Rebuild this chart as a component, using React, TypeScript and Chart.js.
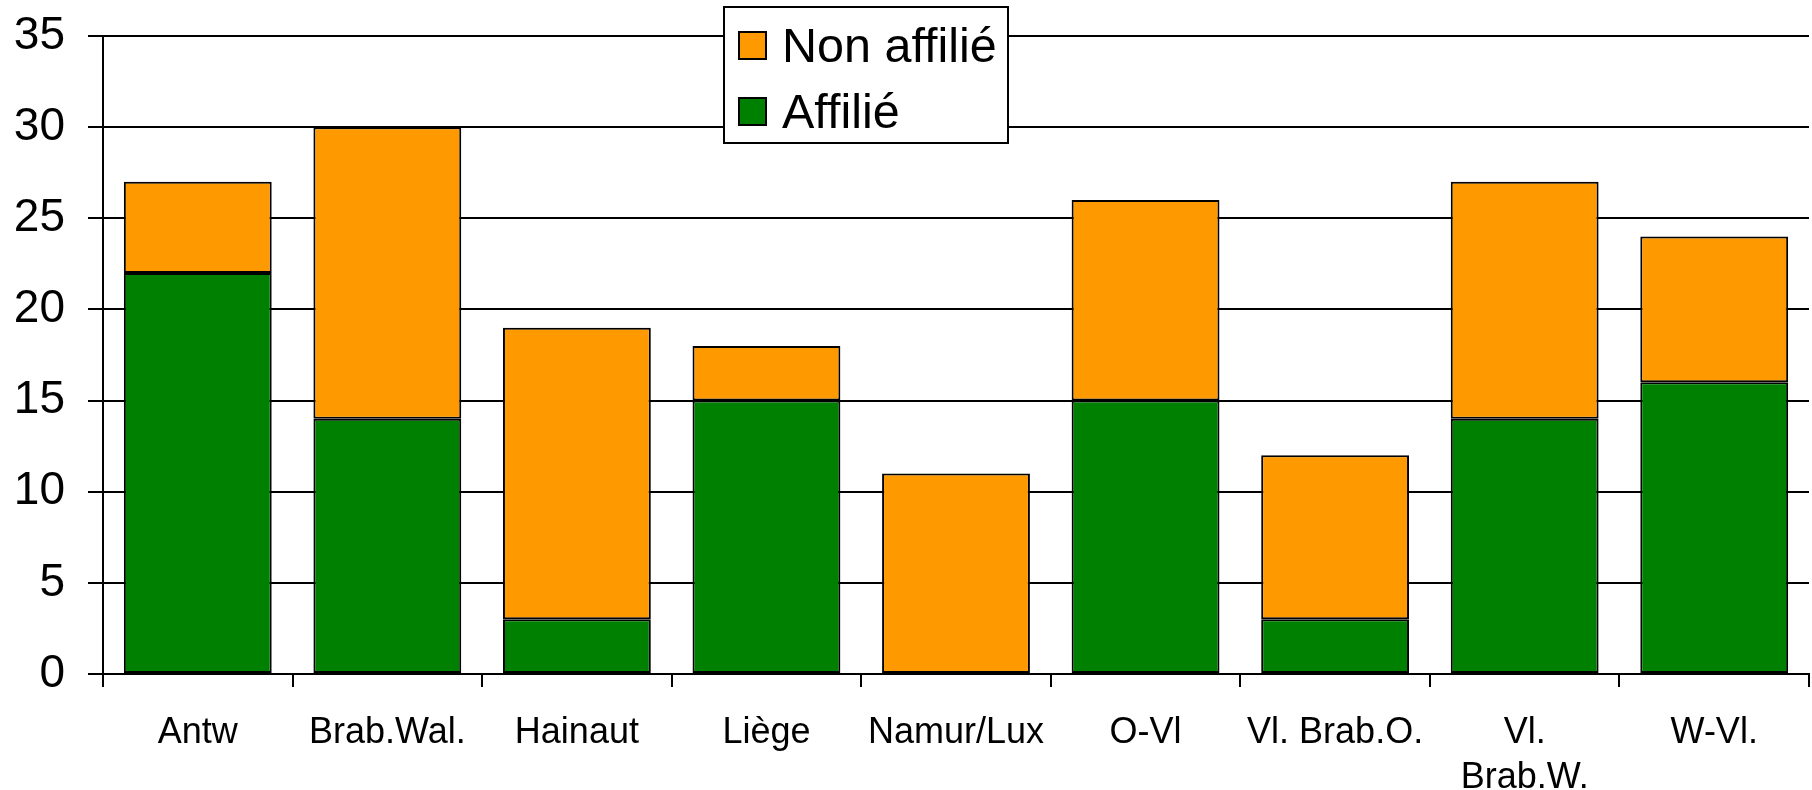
import React, { useEffect, useRef } from "react";
import { Chart, registerables } from "chart.js";

Chart.register(...registerables);

const categories: (string | string[])[] = [
  "Antw",
  "Brab.Wal.",
  "Hainaut",
  "Liège",
  "Namur/Lux",
  "O-Vl",
  "Vl. Brab.O.",
  ["Vl.", "Brab.W."],
  "W-Vl.",
];
const affilie = [22, 14, 3, 15, 0, 15, 3, 14, 16];
const nonAffilie = [5, 16, 16, 3, 11, 11, 9, 13, 8];
const seriesNames = ["Affilié", "Non affilié"];
const seriesColors = ["#008000", "#FF9900"];

const FONT = "'Liberation Sans', Arial, sans-serif";

const legendPlugin = {
  id: "boxLegend",
  afterDatasetsDraw(chart: any) {
    const { ctx, chartArea } = chart;
    const x = chartArea.left + 621;
    const y = chartArea.top - 29;
    const w = 284;
    const h = 136;
    ctx.save();
    ctx.fillStyle = "#fff";
    ctx.fillRect(x, y, w, h);
    ctx.strokeStyle = "#000";
    ctx.lineWidth = 2;
    ctx.strokeRect(x, y, w, h);
    const items = [
      { label: seriesNames[1], color: seriesColors[1] },
      { label: seriesNames[0], color: seriesColors[0] },
    ];
    ctx.font = `48.5px ${FONT}`;
    ctx.textBaseline = "alphabetic";
    items.forEach((it, i) => {
      const by = y + 25 + i * 66;
      ctx.fillStyle = it.color;
      ctx.fillRect(x + 15, by, 27, 27);
      ctx.strokeStyle = "#000";
      ctx.lineWidth = 2;
      ctx.strokeRect(x + 15, by, 27, 27);
      ctx.fillStyle = "#000";
      ctx.fillText(it.label, x + 58, y + 55 + i * 66);
    });
    ctx.restore();
  },
};

export default function App() {
  const ref = useRef<HTMLCanvasElement | null>(null);
  useEffect(() => {
    document.body.style.margin = "0";
    const canvas = ref.current!;
    const chart = new Chart(canvas, {
      type: "bar",
      data: {
        labels: categories,
        datasets: [
          {
            label: seriesNames[0],
            data: affilie,
            backgroundColor: seriesColors[0],
            borderColor: "#000",
            borderWidth: 2,
            borderSkipped: false,
            barPercentage: 0.78,
            categoryPercentage: 1,
          },
          {
            label: seriesNames[1],
            data: nonAffilie,
            backgroundColor: seriesColors[1],
            borderColor: "#000",
            borderWidth: 2,
            borderSkipped: false,
            barPercentage: 0.78,
            categoryPercentage: 1,
          },
        ],
      },
      options: {
        responsive: false,
        animation: false,
        devicePixelRatio: 1,
        layout: { padding: { top: 36, right: 3, left: 0, bottom: 0 } },
        plugins: {
          legend: { display: false },
          tooltip: { enabled: false },
        },
        scales: {
          x: {
            stacked: true,
            offset: true,
            grid: {
              offset: true,
              drawOnChartArea: false,
              drawTicks: true,
              tickLength: 13,
              color: "#000",
              lineWidth: 2,
            },
            border: { display: true, color: "#000", width: 2 },
            ticks: {
              color: "#000",
              font: { family: FONT, size: 36, lineHeight: 1.25 },
              padding: 24,
              maxRotation: 0,
              autoSkip: false,
            },
            afterFit: (s: any) => {
              s.height = 116;
              s.paddingLeft = 0;
              s.paddingRight = 0;
            },
          },
          y: {
            stacked: true,
            min: 0,
            max: 35,
            grid: {
              color: "#000",
              lineWidth: 2,
              tickLength: 15,
              drawTicks: true,
            },
            border: { display: true, color: "#000", width: 2 },
            ticks: {
              stepSize: 5,
              color: "#000",
              font: { family: FONT, size: 46 },
              padding: 23,
            },
            afterFit: (s: any) => {
              s.width = 103;
              s.paddingTop = 0;
              s.paddingBottom = 0;
            },
          },
        },
      },
      plugins: [legendPlugin],
    });
    return () => chart.destroy();
  }, []);
  return (
    <div style={{ width: 1812, height: 790 }}>
      <canvas ref={ref} width={1812} height={790} style={{ display: "block" }} />
    </div>
  );
}
